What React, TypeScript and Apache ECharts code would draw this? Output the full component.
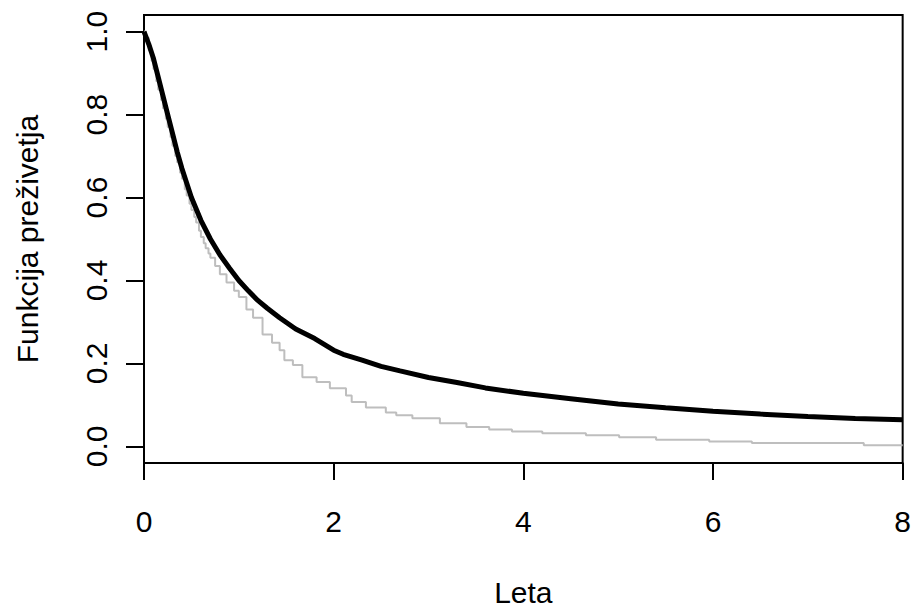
import React, { useEffect, useRef } from "react";
import * as echarts from "echarts";

const xTicks = [0, 2, 4, 6, 8];
const yTicks = [0, 0.2, 0.4, 0.6, 0.8, 1.0];

// Black (thick) survival curve: time (years), survival
const blackT = [0, 0.05, 0.1, 0.15, 0.2, 0.25, 0.3, 0.35, 0.4, 0.5, 0.6, 0.7, 0.8, 0.9, 1.0, 1.1, 1.2, 1.3, 1.43, 1.6, 1.8, 2.0, 2.1, 2.3, 2.5, 2.7, 3.0, 3.3, 3.6, 4.0, 4.5, 5.0, 5.5, 6.0, 6.5, 7.0, 7.5, 8.0];
const blackS = [1.0, 0.97, 0.935, 0.89, 0.845, 0.8, 0.755, 0.71, 0.67, 0.6, 0.545, 0.5, 0.462, 0.43, 0.4, 0.375, 0.352, 0.333, 0.31, 0.283, 0.26, 0.232, 0.222, 0.208, 0.193, 0.182, 0.166, 0.154, 0.141, 0.128, 0.115, 0.102, 0.093, 0.085, 0.078, 0.072, 0.067, 0.064];

// Grey (thin) survival curve: time (years), survival
const greyT = [0, 0.02, 0.05, 0.08, 0.1, 0.13, 0.15, 0.18, 0.2, 0.23, 0.25, 0.28, 0.3, 0.33, 0.35, 0.38, 0.4, 0.43, 0.45, 0.48, 0.5, 0.53, 0.55, 0.58, 0.6, 0.63, 0.65, 0.68, 0.7, 0.75, 0.8, 0.87, 0.95, 1.0, 1.08, 1.15, 1.25, 1.35, 1.43, 1.48, 1.57, 1.67, 1.82, 1.96, 2.13, 2.19, 2.34, 2.55, 2.66, 2.83, 3.12, 3.4, 3.64, 3.88, 4.2, 4.66, 5.01, 5.4, 5.96, 6.41, 7.59, 8.0];
const greyS = [1.0, 0.985, 0.955, 0.93, 0.91, 0.88, 0.86, 0.835, 0.815, 0.79, 0.77, 0.745, 0.725, 0.7, 0.685, 0.66, 0.645, 0.62, 0.605, 0.585, 0.57, 0.553, 0.54, 0.52, 0.505, 0.49, 0.478, 0.465, 0.455, 0.435, 0.415, 0.395, 0.375, 0.36, 0.33, 0.31, 0.27, 0.25, 0.232, 0.208, 0.196, 0.167, 0.155, 0.14, 0.123, 0.107, 0.094, 0.082, 0.075, 0.068, 0.056, 0.047, 0.041, 0.036, 0.032, 0.027, 0.022, 0.016, 0.012, 0.008, 0.003, 0.003];

const xName = "Leta";
const yName = "Funkcija preživetja";

const FONT = "'Liberation Sans', Arial, Helvetica, sans-serif";

export default function App() {
  const ref = useRef<HTMLDivElement>(null);
  useEffect(() => {
    if (!ref.current) return;
    const chart = echarts.init(ref.current, null, { renderer: "svg" });
    const black = blackT.map((t, i) => [t, blackS[i]]);
    const grey = greyT.map((t, i) => [t, greyS[i]]);
    chart.setOption({
      animation: false,
      backgroundColor: "#fff",
      textStyle: { fontFamily: FONT },
      grid: {
        left: 144,
        right: 10,
        top: 15,
        bottom: 149,
        show: true,
        borderColor: "#000",
        borderWidth: 2,
        backgroundColor: "transparent",
      },
      xAxis: {
        type: "value",
        min: 0,
        max: 8,
        interval: 2,
        name: xName,
        nameLocation: "middle",
        nameGap: 114,
        nameTextStyle: { fontSize: 30, color: "#000", fontFamily: FONT },
        axisLine: { show: true, onZero: false, lineStyle: { color: "#000", width: 2 } },
        axisTick: { show: true, length: 17, lineStyle: { color: "#000", width: 2 } },
        axisLabel: {
          fontSize: 30,
          color: "#000",
          margin: 43,
          fontFamily: FONT,
          customValues: xTicks,
        },
        splitLine: { show: false },
      },
      yAxis: {
        type: "value",
        min: -0.04,
        max: 1.04,
        name: yName,
        nameLocation: "middle",
        nameRotate: 90,
        nameGap: 102,
        nameTextStyle: { fontSize: 30, color: "#000", fontFamily: FONT },
        axisLine: { show: true, onZero: false, lineStyle: { color: "#000", width: 2 } },
        axisTick: { show: true, length: 18, lineStyle: { color: "#000", width: 2 }, customValues: yTicks },
        axisLabel: {
          fontSize: 30,
          color: "#000",
          rotate: 90,
          margin: 33,
          fontFamily: FONT,
          customValues: yTicks,
          formatter: (v: number) => v.toFixed(1),
        },
        splitLine: { show: false },
      },
      series: [
        {
          type: "line",
          data: grey,
          step: "end",
          showSymbol: false,
          symbol: "none",
          lineStyle: { color: "#BEBEBE", width: 2 },
          z: 2,
        },
        {
          type: "line",
          data: black,
          showSymbol: false,
          symbol: "none",
          lineStyle: { color: "#000", width: 5 },
          z: 3,
        },
      ],
    });
    return () => chart.dispose();
  }, []);
  return <div ref={ref} style={{ width: 914, height: 612, position: "absolute", left: 0, top: 0 }} />;
}
